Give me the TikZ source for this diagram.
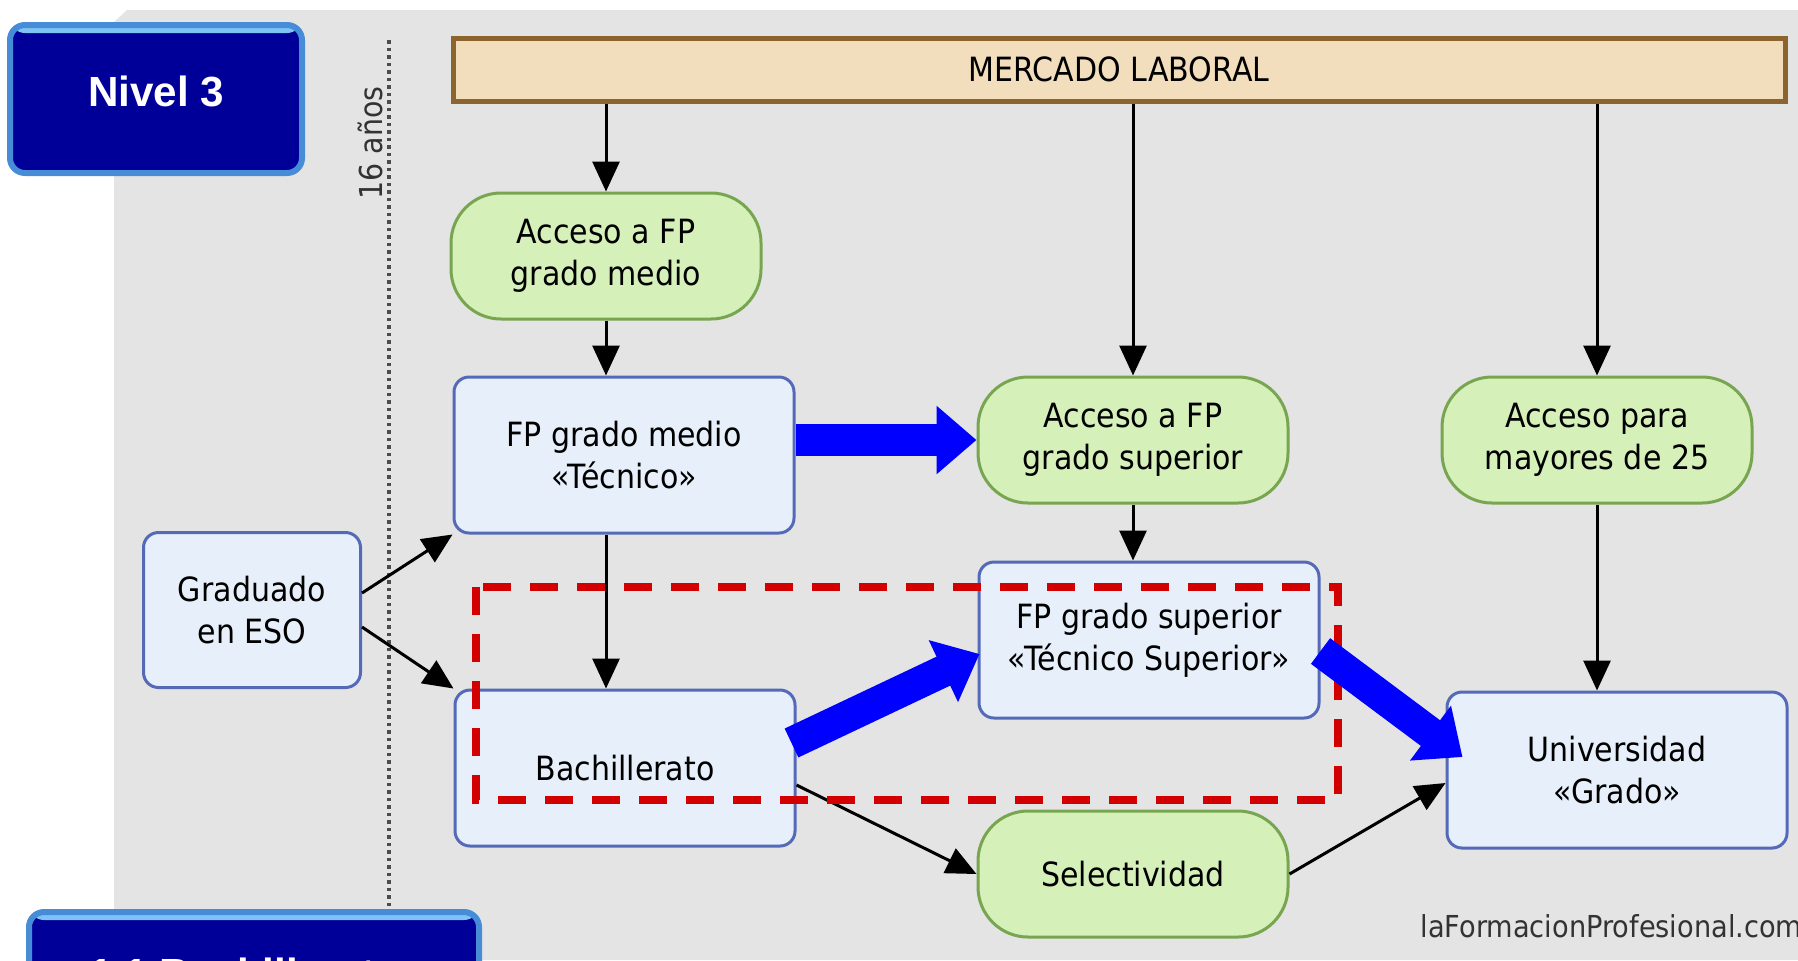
\documentclass[tikz,border=0pt]{standalone}
\usepackage{fontspec}
\setmainfont{DejaVu Sans}[FakeStretch=0.9]
\newfontfamily\nivelfont{Liberation Sans}
\usetikzlibrary{shapes,arrows.meta,calc}
\definecolor{bggray}{RGB}{228,228,228}
\definecolor{boxfill}{RGB}{231,239,250}
\definecolor{boxdraw}{RGB}{85,105,185}
\definecolor{accfill}{RGB}{214,240,186}
\definecolor{accdraw}{RGB}{120,165,80}
\definecolor{mercfill}{RGB}{242,221,188}
\definecolor{mercdraw}{RGB}{140,100,45}
\definecolor{nivelblue}{RGB}{0,0,153}
\definecolor{niveledge}{RGB}{70,140,215}
\definecolor{niveltop}{RGB}{125,195,245}
\definecolor{flowblue}{RGB}{0,0,255}
\definecolor{markred}{RGB}{210,0,0}
\tikzstyle{block} = [draw=boxdraw, fill=boxfill, line width=0.3mm, rectangle, rounded corners=1.5mm,
    minimum width=34mm, minimum height=15.6mm, align=center, inner sep=1mm, font=\fontsize{9.5}{12}\selectfont]
\tikzstyle{access} = [draw=accdraw, fill=accfill, line width=0.3mm, rectangle, rounded corners=5mm,
    minimum width=31mm, minimum height=12.6mm, align=center, inner sep=1mm, font=\fontsize{9.5}{12}\selectfont]
\tikzstyle{nivel} = [draw=niveledge, fill=nivelblue, line width=0.6mm, rectangle, rounded corners=1.5mm, text=white,
    font=\nivelfont\bfseries\fontsize{12}{14}\selectfont,
    path picture={\fill[niveltop] (path picture bounding box.north west) rectangle ([yshift=-0.8mm]path picture bounding box.north east);}]
\tikzstyle{link} = [draw=black, line width=0.3mm, -{Triangle[length=3mm,width=2.7mm]}]
\tikzstyle{flow} = [draw=flowblue, line width=3.2mm, -{Triangle[length=4mm,width=6.6mm]}]

\begin{document}
\begin{tikzpicture}[x=0.1mm,y=-0.1mm]
\useasboundingbox (0,0) rectangle (1798,960);
%% Fondo %%
\fill[bggray] (114,22) -- (127,10) -- (1798,10) -- (1798,960) -- (114,960) -- cycle;
\draw[gray!60!black, line width=0.35mm, dash pattern=on 0.35mm off 0.4mm] (389,40) -- (389,960);
\node[rotate=90, font=\fontsize{9}{11}\selectfont, text=black!80] (edad) at (370,143) {16 años};

%% Niveles %%
\node [nivel, minimum width=29.2mm, minimum height=14.8mm, text depth=1.6mm] (Nivel) at (156,99) {Nivel 3};
\node [nivel, minimum width=45mm, minimum height=20mm] (Tema) at (254,1012) {};
\node [anchor=base west, text=white, font=\nivelfont\bfseries\fontsize{12}{14}\selectfont] (Temalabel) at (77,988) {1.1 Bachillerato};

%% Accesos y estudios %%
\node [access] (AccesoMedio) at (606,256) {Acceso a FP\\grado medio};
\node [block] (FPMedio) at ($(AccesoMedio)+(18,199)$) {FP grado medio\\«Técnico»};
\node [block] (Bachillerato) at ($(FPMedio)+(1,313)$) {Bachillerato};
\node [block, minimum width=21.7mm, minimum height=15.5mm] (Graduado) at ($(FPMedio)+(-372,155)$) {Graduado\\en ESO};
\node [access] (AccesoSuperior) at ($(AccesoMedio)+(527,184)$) {Acceso a FP\\grado superior};
\node [block] (FPSuperior) at ($(AccesoSuperior)+(16,200)$) {FP grado superior\\«Técnico Superior»};
\node [access] (Selectividad) at ($(AccesoSuperior)+(0,434)$) {Selectividad};
\node [access] (AccesoMayores) at ($(AccesoSuperior)+(464,0)$) {Acceso para\\mayores de 25};
\node [block] (Universidad) at ($(AccesoMayores)+(20,330)$) {Universidad\\«Grado»};
\node [draw=mercdraw, fill=mercfill, line width=0.5mm, minimum width=133.2mm, minimum height=6.3mm,
    font=\fontsize{9.5}{12}\selectfont] (Mercado) at ($(AccesoMedio)+(513,-186.5)$) {MERCADO LABORAL};

%% Conexiones %%
\draw[link] (Mercado.south -| AccesoMedio.north) -- (AccesoMedio.north);
\draw[link] (Mercado.south -| AccesoSuperior.north) -- (AccesoSuperior.north);
\draw[link] (Mercado.south -| AccesoMayores.north) -- (AccesoMayores.north);
\draw[link] (AccesoMedio.south) -- (AccesoMedio.south |- FPMedio.north);
\draw[link] (FPMedio.south -| AccesoMedio.south) -- (Bachillerato.north -| AccesoMedio.south);
\draw[link] (AccesoSuperior.south) -- (AccesoSuperior.south |- FPSuperior.north);
\draw[link] (AccesoMayores.south) -- (AccesoMayores.south |- Universidad.north);
\draw[link] ($(Graduado.east)+(0,-17)$) -- (FPMedio.south west);
\draw[link] ($(Graduado.east)+(0,17)$) -- (Bachillerato.north west);
\draw[link] ($(Bachillerato.east)+(0,17)$) -- (Selectividad.west);
\draw[link] (Selectividad.east) -- ($(Universidad.west)+(0,13)$);

%% Recuadro %%
\draw[markred, line width=0.85mm, dash pattern=on 2.8mm off 1.9mm] (476,587) rectangle (1338,800);

%% Itinerario %%
\draw[flow] (FPMedio.east |- AccesoSuperior.west) -- (AccesoSuperior.west);
\draw[flow] ($(Bachillerato.east)+(-5,-25)$) -- ($(FPSuperior.west)+(2,14)$);
\draw[flow] ($(FPSuperior.east)+(0,11)$) -- ($(Universidad.west)+(17,-13)$);

\node[anchor=base west, font=\fontsize{8.6}{10}\selectfont, text=black!80] (Web) at (1408,937) {laFormacionProfesional.com};
\end{tikzpicture}
\end{document}
